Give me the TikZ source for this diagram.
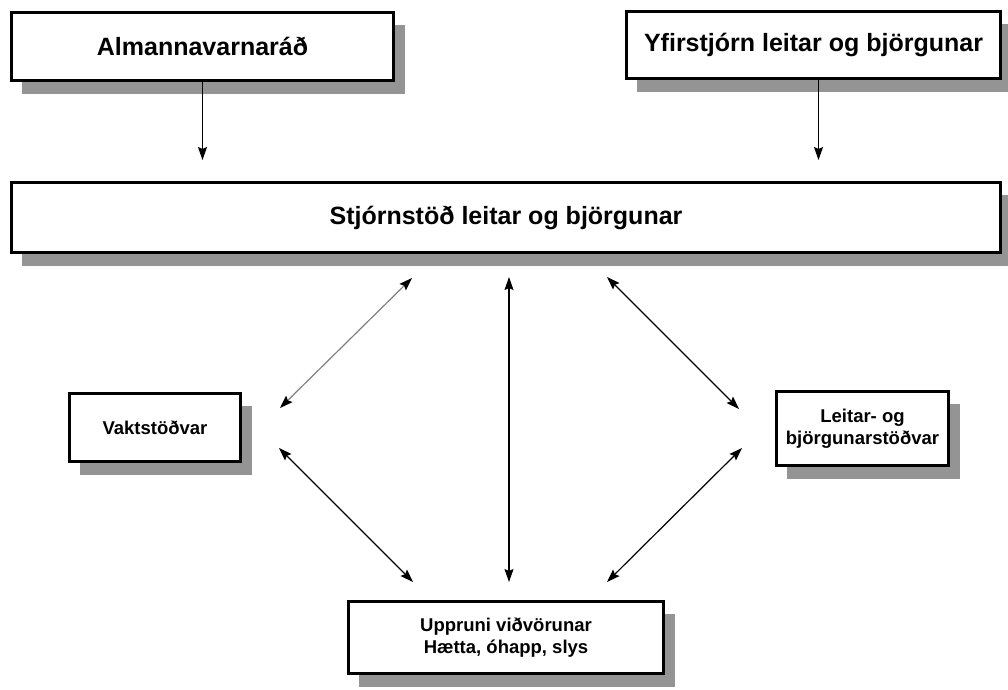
\documentclass[tikz,border=0pt]{standalone}
\usepackage{fontspec}
\setmainfont{Liberation Sans}
\usetikzlibrary{arrows.meta,shadows}
\begin{document}
\begin{tikzpicture}[x=1pt,y=-1pt,
  box/.style={draw=black, line width=2.6pt, fill=white, inner sep=0pt, align=center,
    font=\bfseries\fontsize{25}{30}\selectfont,
    general shadow={fill=black!42, shadow xshift=11pt, shadow yshift=-13pt}},
  smallbox/.style={box, font=\bfseries\fontsize{18.5}{22.5}\selectfont},
  tip/.tip={Stealth[length=13pt,width=9pt,inset=2pt,black]},
  darr/.style={line width=1.2pt, tip-tip},
  sarr/.style={line width=1pt, -tip},
]
\useasboundingbox (0,0) rectangle (1008,689);

\node[box, minimum width=382.4pt, minimum height=68.4pt] (alm) at (202.5,46.5) {Almannavarnaráð};
\node[box, minimum width=374.4pt, minimum height=67.4pt] (yfir) at (813.5,45) {Yfirstjórn leitar og björgunar};
\node[box, minimum width=989.4pt, minimum height=70.4pt] (big) at (506,217.5) {Stjórnstöð leitar og björgunar};
\node[smallbox, minimum width=171.4pt, minimum height=68.4pt] (vakt) at (155,427.5) {Vaktstöðvar};
\node[smallbox, minimum width=172.4pt, minimum height=74.4pt] (leit) at (862.5,428.5) {Leitar- og\\björgunarstöðvar};
\node[smallbox, minimum width=315.4pt, minimum height=72.4pt] (bot) at (506,637.5) {Uppruni viðvörunar\\Hætta, óhapp, slys};

\draw[sarr] (alm.south) -- (alm.south |- 0,160);
\draw[sarr] ([xshift=5pt]yfir.south) -- ([xshift=5pt]yfir.south |- 0,160);

\coordinate (d1a) at (412,278);
\coordinate (d1b) at (280,408);
\coordinate (d2a) at (607,277);
\coordinate (d2b) at (739,409);
\coordinate (va) at (509,277);
\coordinate (vb) at (509,582);
\coordinate (d3a) at (279,448);
\coordinate (d3b) at (413,582);
\coordinate (d4a) at (742,448);
\coordinate (d4b) at (607,582);

\draw[darr, draw=black!50] (d1a) -- (d1b);
\draw[darr] (d2a) -- (d2b);
\draw[darr] (va) -- (vb);
\draw[darr] (d3a) -- (d3b);
\draw[darr] (d4a) -- (d4b);
\end{tikzpicture}
\end{document}
